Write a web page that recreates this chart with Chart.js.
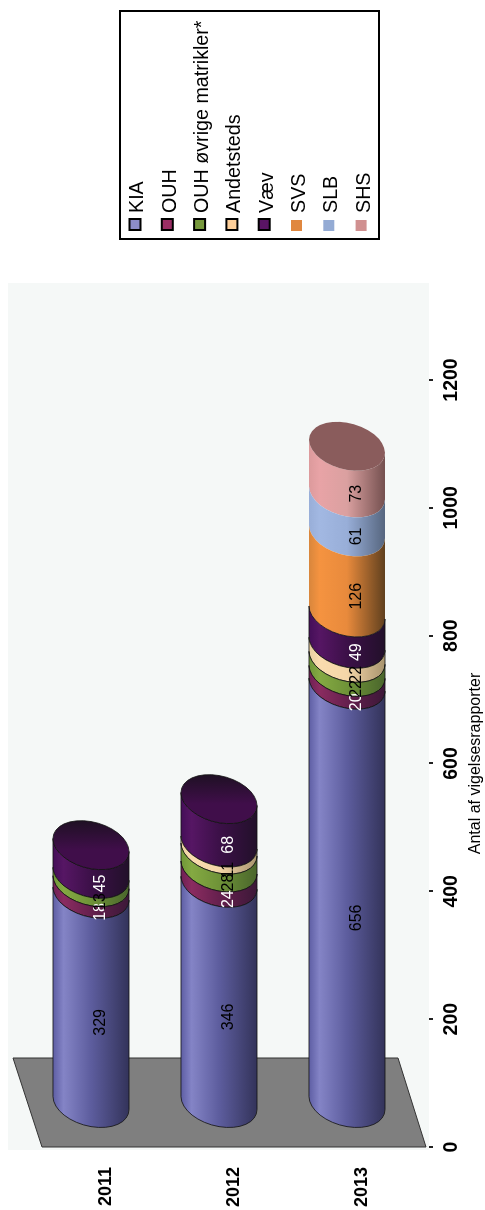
<!DOCTYPE html>
<html lang="da">
<head>
<meta charset="utf-8">
<title>Antal af vigelsesrapporter</title>
<style>
    html, body { margin: 0; padding: 0; width: 485px; height: 1210px; overflow: hidden; background: #fff; }
    /* the whole chart is turned on its side, as in the original */
    #wrap { position: absolute; left: 0; top: 1210px; width: 1210px; height: 485px; transform-origin: 0 0; transform: rotate(-90deg); }
</style>
<script src="https://cdn.jsdelivr.net/npm/chart.js@4"></script>
</head>
<body>
<div id="wrap"><canvas id="rapportChart" width="1210" height="485"></canvas></div>
<script>
// data
var years = ['2011', '2012', '2013'];
var seriesNames = ['KIA', 'OUH', 'OUH øvrige matrikler*', 'Andetsteds', 'Væv', 'SVS', 'SLB', 'SHS'];
var kia = [329, 346, 656];
var ouh = [18, 24, 20];
var ouhOevrige = [13, 28, 22];
var andetsteds = [0, 11, 22];
var vaev = [45, 68, 49];
var svs = [0, 0, 126];
var slb = [0, 0, 61];
var shs = [0, 0, 73];
var valueTicks = [0, 200, 400, 600, 800, 1000, 1200];
var axisTitle = 'Antal af vigelsesrapporter';

var allSeries = [kia, ouh, ouhOevrige, andetsteds, vaev, svs, slb, shs];

// colours: side gradient, top cap (far, near), label, swatch, outlined
var looks = [
    { stops: ['#5e5ea4', '#8484c6', '#5d5d9e', '#33335a'], cap: ['#3a3a60', '#3a3a60'], label: '#000', swatch: '#8c8cca', line: true },
    { stops: ['#6e2054', '#8a2c60', '#66204e', '#3c1838'], cap: ['#5a1a48', '#5a1a48'], label: '#fff', swatch: '#9a2e64', line: true },
    { stops: ['#6f9638', '#84a942', '#6f9338', '#4a662c'], cap: ['#5a7a30', '#5a7a30'], label: '#000', swatch: '#76983c', line: true },
    { stops: ['#e8cfa0', '#fadcae', '#f4d6a8', '#a8946e'], cap: ['#c0a880', '#c0a880'], label: '#000', swatch: '#fdcf9a', line: true },
    { stops: ['#440e58', '#561664', '#3c1048', '#22102a'], cap: ['#1f1024', '#400e4a'], label: '#fff', swatch: '#5a1464', line: true },
    { stops: ['#d8863c', '#f59340', '#e88a3c', '#60401e'], cap: ['#a06030', '#a06030'], label: '#000', swatch: '#e0873f', line: false },
    { stops: ['#98aed8', '#a2b8e2', '#98aed8', '#56667f'], cap: ['#6a7a9a', '#6a7a9a'], label: '#000', swatch: '#94abd4', line: false },
    { stops: ['#dc9a9c', '#e8a3a6', '#daa0a0', '#74504f'], cap: ['#8a5c5c', '#8a5c5c'], label: '#000', swatch: '#d09090', line: false }
];

var fontName = '"Liberation Sans", Arial, sans-serif';

// shift of the bars into the depth of the 3D floor, and the tilt of their ellipses
var depthX = 43;
var depthY = -15;
var tiltU = -6.5;
var capV = -23.6;

function capArc(ctx, cx, cy, halfW, from, to, ccw) {
    ctx.save();
    ctx.transform(tiltU, halfW, capV, 0, cx, cy);
    ctx.arc(0, 0, 1, from, to, ccw);
    ctx.restore();
}

function sideGradient(ctx, top, bottom, stops) {
    var g = ctx.createLinearGradient(0, top, 0, bottom);
    g.addColorStop(0, stops[0]);
    g.addColorStop(0.14, stops[1]);
    g.addColorStop(0.5, stops[2]);
    g.addColorStop(1, stops[3]);
    return g;
}

function isTopOfStack(index, i) {
    for (var k = index + 1; k < allSeries.length; k++) {
        if (allSeries[k][i] > 0) return false;
    }
    return true;
}

var wallPlugin = {
    id: 'wall',
    beforeDatasetsDraw: function (chart) {
        var ctx = chart.ctx, a = chart.chartArea;
        ctx.save();
        ctx.fillStyle = '#f5f8f7';
        ctx.fillRect(a.left - 3, 8, a.right - a.left + 100, a.bottom - 5);
        // floor
        ctx.beginPath();
        ctx.moveTo(a.left, a.top);
        ctx.lineTo(a.left, a.bottom);
        ctx.lineTo(a.left + 89, a.bottom - 28);
        ctx.lineTo(a.left + 89, a.top - 29);
        ctx.closePath();
        ctx.fillStyle = '#7f7f7f';
        ctx.fill();
        ctx.strokeStyle = '#333';
        ctx.lineWidth = 1;
        ctx.stroke();
        ctx.restore();
    }
};

var cylinderPlugin = {
    id: 'cylinder',
    // the library has laid the bars out; they are drawn as cylinders from its elements
    beforeDatasetDraw: function (chart, args) {
        var ctx = chart.ctx;
        var look = looks[args.index];
        args.meta.data.forEach(function (bar, i) {
            if (!allSeries[args.index][i]) return;
            var half = bar.height / 2;
            var cy = bar.y + depthY;
            var from = bar.base + depthX;
            var to = bar.x + depthX;
            ctx.save();
            ctx.beginPath();
            capArc(ctx, to, cy, half, 0, Math.PI, false);
            capArc(ctx, from, cy, half, Math.PI, 0, true);
            ctx.closePath();
            ctx.fillStyle = sideGradient(ctx, cy - half, cy + half, look.stops);
            ctx.fill();
            if (look.line) {
                ctx.strokeStyle = '#111';
                ctx.lineWidth = 0.8;
                ctx.stroke();
            }
            if (isTopOfStack(args.index, i)) {
                var capFill = ctx.createLinearGradient(to + 24, 0, to - 24, 0);
                capFill.addColorStop(0, look.cap[0]);
                capFill.addColorStop(0.6, look.cap[1]);
                capFill.addColorStop(1, look.cap[1]);
                ctx.beginPath();
                capArc(ctx, to, cy, half, 0, Math.PI * 2, false);
                ctx.closePath();
                ctx.fillStyle = capFill;
                ctx.fill();
                if (look.line) {
                    ctx.strokeStyle = '#111';
                    ctx.lineWidth = 0.8;
                    ctx.stroke();
                }
            }
            ctx.restore();
        });
        return false;
    },
    afterDatasetsDraw: function (chart) {
        var ctx = chart.ctx;
        ctx.save();
        ctx.font = '16px ' + fontName;
        ctx.textAlign = 'center';
        ctx.textBaseline = 'middle';
        chart.data.datasets.forEach(function (ds, index) {
            chart.getDatasetMeta(index).data.forEach(function (bar, i) {
                if (!ds.data[i]) return;
                ctx.fillStyle = looks[index].label;
                ctx.fillText(String(ds.data[i]), (bar.base + bar.x) / 2 + 19, bar.y - 5);
            });
        });
        ctx.restore();
    }
};

var legendPlugin = {
    id: 'boxLegend',
    afterDraw: function (chart) {
        var ctx = chart.ctx;
        ctx.save();
        ctx.strokeStyle = '#000';
        ctx.lineWidth = 2;
        ctx.strokeRect(971, 120, 228, 259);
        ctx.font = '19.7px ' + fontName;
        ctx.textBaseline = 'middle';
        ctx.textAlign = 'left';
        chart.data.datasets.forEach(function (ds, index) {
            var y = 135 + index * 32.3;
            var look = looks[index];
            if (look.line) {
                ctx.fillStyle = '#000';
                ctx.fillRect(979, y - 6.5, 13, 13);
                ctx.fillStyle = look.swatch;
                ctx.fillRect(981, y - 4.5, 9, 9);
            } else {
                ctx.fillStyle = look.swatch;
                ctx.fillRect(979, y - 5.5, 11, 11);
            }
            ctx.fillStyle = '#000';
            ctx.fillText(ds.label, 997, y + 3);
        });
        ctx.restore();
    }
};

document.addEventListener('DOMContentLoaded', function () {
    var ctx = document.getElementById('rapportChart').getContext('2d');
    new Chart(ctx, {
        type: 'bar',
        data: {
            labels: years,
            datasets: seriesNames.map(function (name, index) {
                return {
                    label: name,
                    data: allSeries[index],
                    backgroundColor: looks[index].swatch,
                    barPercentage: 0.594,
                    categoryPercentage: 1
                };
            })
        },
        options: {
            indexAxis: 'y',
            responsive: false,
            animation: false,
            devicePixelRatio: 1,
            layout: { padding: { top: 42, right: 380, left: 0, bottom: 0 } },
            plugins: {
                legend: { display: false },
                tooltip: { enabled: false }
            },
            scales: {
                x: {
                    stacked: true,
                    min: 0,
                    max: 1200,
                    afterFit: function (scale) { scale.height = 59; },
                    afterBuildTicks: function (scale) {
                        scale.ticks = valueTicks.map(function (v) { return { value: v }; });
                    },
                    border: { color: '#444', width: 2 },
                    grid: { drawOnChartArea: false, color: '#222', lineWidth: 2, tickLength: 7 },
                    ticks: {
                        color: '#000',
                        maxRotation: 0,
                        autoSkip: false,
                        padding: 7,
                        font: { family: fontName, size: 19.5, weight: 'bold' },
                        callback: function (value) { return String(value); }
                    },
                    title: {
                        display: true,
                        text: axisTitle,
                        color: '#000',
                        font: { family: fontName, size: 16 },
                        padding: { top: 0, bottom: 0 }
                    }
                },
                y: {
                    stacked: true,
                    afterFit: function (scale) { scale.width = 63; },
                    border: { color: '#222', width: 2 },
                    grid: { display: false, drawTicks: false },
                    ticks: {
                        color: '#000',
                        padding: 20,
                        font: { family: fontName, size: 18, weight: 'bold' }
                    }
                }
            }
        },
        plugins: [wallPlugin, cylinderPlugin, legendPlugin]
    });
});
</script>
</body>
</html>
